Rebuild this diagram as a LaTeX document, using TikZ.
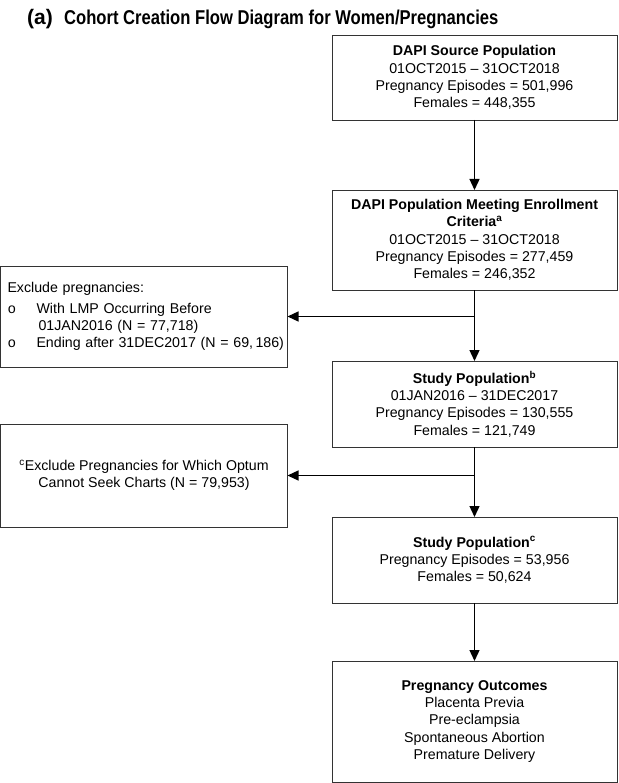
\documentclass[tikz,border=0pt]{standalone}
\usepackage{fontspec}
\setmainfont{Liberation Sans}
\setmonofont{Liberation Mono}
\newfontfamily\narrowfont[FakeStretch=0.83]{Liberation Sans}
\usetikzlibrary{arrows.meta}

\newcommand{\bodyfont}{\fontsize{14.2}{17.3}\selectfont}

\tikzstyle{main}  = [draw=black!80, line width=0.8pt, inner sep=0pt, outer sep=0pt, align=center, font=\bodyfont]
\tikzstyle{cbox}  = [main, minimum width=285pt]
\tikzstyle{lbox}  = [main, minimum width=287pt]
\tikzstyle{flow}  = [-{Triangle[width=10pt,length=11pt]}, line width=1.3pt, black]

\begin{document}
\begin{tikzpicture}[x=1pt, y=-1pt]
     \useasboundingbox (0,0) rectangle (618,783);
     % title
     \node[anchor=base west, inner sep=0pt, font=\fontsize{21}{25}\selectfont\bfseries] (tag) at (27,25) {(a)};
     \node[anchor=base west, inner sep=0pt, font=\fontsize{20}{24}\selectfont\narrowfont\bfseries] (title) at (64,25)
       {Cohort Creation Flow Diagram for Women/Pregnancies};
     % main column
     \draw
       node[cbox, minimum height=85pt]  (src)     at (474.5, 77.5)
         {\textbf{DAPI Source Population}\\01OCT2015 – 31OCT2018\\Pregnancy Episodes = 501,996\\Females = 448,355}
       node[cbox, minimum height=100pt] (enrol)   at (474.5, 240)
         {\textbf{DAPI Population Meeting Enrollment}\\\textbf{Criteria\textsuperscript{a}}\\01OCT2015 – 31OCT2018\\Pregnancy Episodes = 277,459\\Females = 246,352}
       node[cbox, minimum height=86pt]  (study)   at (474.5, 404)
         {\textbf{Study Population\textsuperscript{b}}\\01JAN2016 – 31DEC2017\\Pregnancy Episodes = 130,555\\Females = 121,749}
       node[cbox, minimum height=86pt]  (studyc)  at (474.5, 560)
         {\textbf{Study Population\textsuperscript{c}}\\Pregnancy Episodes = 53,956\\Females = 50,624}
       node[cbox, minimum height=121pt] (outcome) at (474.5, 721.5)
         {\textbf{Pregnancy Outcomes}\\Placenta Previa\\Pre-eclampsia\\Spontaneous Abortion\\Premature Delivery};
     % exclusions
     \draw
       node[lbox, minimum height=101pt, align=left, text width=273pt, inner xsep=7pt] (excl1) at (144, 316.5)
         {Exclude pregnancies:\\[3pt]
          \makebox[29pt][l]{\ttfamily o}With LMP Occurring Before\\
          \hspace*{31pt}01JAN2016 (N = 77,718)\\
          \makebox[29pt][l]{\ttfamily o}\makebox[240pt][l]{Ending after 31DEC2017 (N = 69,\,186)}}
       node[lbox, minimum height=103pt] (excl2) at (144, 475.5)
         {\textsuperscript{c}Exclude Pregnancies for Which Optum\\Cannot Seek Charts (N = 79,953)};
     % arrows
     \draw[flow] (src) -- (enrol);
     \draw[flow] (enrol) -- (study);
     \draw[flow] (study) -- (studyc);
     \draw[flow] (studyc) -- (outcome);
     \draw[flow] (excl1.east -| enrol.south) -- (excl1.east);
     \draw[flow] (excl2.east -| study.south) -- (excl2.east);
\end{tikzpicture}
\end{document}
